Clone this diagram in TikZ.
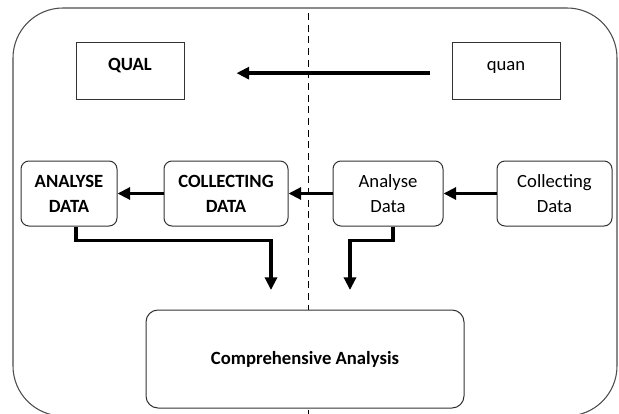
\documentclass[tikz,border=0pt]{standalone}
\usepackage{fontspec}
\setmainfont{Carlito}
\usetikzlibrary{arrows.meta,calc}

\begin{document}
\begin{tikzpicture}[x=0.75pt,y=-0.75pt,
  every node/.style={font=\fontsize{14}{18.75}\selectfont, align=center, inner sep=0pt},
  plainbox/.style={draw=black!80, line width=0.75pt, fill=white},
  roundbox/.style={plainbox, rounded corners=6pt},
  toptext/.style={text height=9pt, text depth=9pt},
  flow/.style={line width=2.8pt, -{Triangle[length=9.5pt,width=9pt]}}]
\useasboundingbox (0,0) rectangle (619,414);
% frame and divider
\draw[black!70, line width=0.8pt, rounded corners=37.5pt] (13,8) rectangle (617,416);
\draw[line width=0.75pt, dash pattern=on 5.25pt off 3.5pt] (308,13) -- (308,420);
% top row
\node[plainbox, toptext, minimum width=81pt, minimum height=42.75pt] (qual) at (130,70.5) {\textbf{QUAL}};
\node[plainbox, toptext, minimum width=81pt, minimum height=42.75pt] (quan) at (506,70.5) {quan};
% middle row
\node[roundbox, minimum width=72pt, minimum height=48.75pt] (analqual) at (69,193.5) {\textbf{ANALYSE}\\\textbf{DATA}};
\node[roundbox, minimum width=93pt, minimum height=48.75pt] (collqual) at (226,193.5) {\textbf{COLLECTING}\\\textbf{DATA}};
\node[roundbox, minimum width=82.5pt, minimum height=48.75pt] (analquan) at (388,193.5) {Analyse\\Data};
\node[roundbox, minimum width=86.25pt, minimum height=48.75pt] (collquan) at (554.5,193.5) {Collecting\\Data};
% result
\node[plainbox, rounded corners=9pt, minimum width=238.5pt, minimum height=73.5pt] (comp) at (305,359) {\textbf{Comprehensive Analysis}};
\coordinate (tipqual) at (271,290);
\coordinate (tipquan) at (350,290);
% connectors
\draw[flow, shorten <=16.5pt, shorten >=39pt] ([yshift=-2pt]quan.west) -- ([yshift=-2pt]qual.east);
\draw[flow] (collquan.west) -- (analquan.east);
\draw[flow] (analquan.west) -- (collqual.east);
\draw[flow] (collqual.west) -- (analqual.east);
\draw[flow] ([xshift=5.25pt]analqual.south) -- ++(0,14) -| (tipqual);
\draw[flow] ([xshift=3.75pt]analquan.south) -- ++(0,14) -| (tipquan);
\end{tikzpicture}
\end{document}
